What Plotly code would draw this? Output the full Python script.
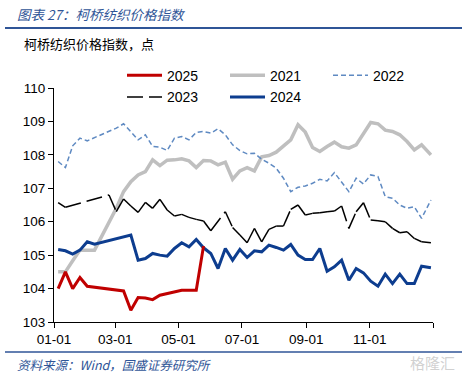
import plotly.graph_objects as go

BASE_YEAR = "2001-"

# ---- data (month-day, value) ----
dates_2021 = ["01-05", "01-12", "01-19", "01-26", "02-02", "02-09", "03-02", "03-09", "03-16", "03-23",
              "03-30", "04-06", "04-13", "04-20", "04-27", "05-04", "05-11", "05-18", "05-25", "06-01",
              "06-08", "06-15", "06-22", "06-29", "07-06", "07-13", "07-20", "07-27", "08-03", "08-10",
              "08-17", "08-24", "08-31", "09-07", "09-14", "09-21", "09-28", "10-05", "10-12", "10-19",
              "10-26", "11-02", "11-09", "11-16", "11-23", "11-30", "12-07", "12-14", "12-21", "12-30"]
vals_2021 = [104.5, 104.5, 104.83, 105.15, 105.15, 105.15, 106.4, 106.9, 107.2, 107.4,
             107.5, 107.85, 107.68, 107.84, 107.85, 107.88, 107.82, 107.62, 107.83, 107.82,
             107.7, 107.78, 107.27, 107.52, 107.62, 107.52, 107.94, 107.98, 108.08, 108.25,
             108.45, 108.9, 108.68, 108.22, 108.1, 108.25, 108.38, 108.24, 108.2, 108.3,
             108.62, 108.97, 108.93, 108.74, 108.7, 108.6, 108.4, 108.15, 108.3, 108.0]

dates_2022 = ["01-05", "01-12", "01-19", "01-26", "02-02", "02-16", "02-23", "03-02", "03-09", "03-16",
              "03-23", "03-30", "04-06", "04-13", "04-20", "04-27", "05-04", "05-11", "05-18", "05-25",
              "06-01", "06-08", "06-15", "06-22", "06-29", "07-06", "07-13", "07-20", "07-27", "08-03",
              "08-10", "08-17", "08-24", "08-31", "09-07", "09-14", "09-21", "09-28", "10-05", "10-12",
              "10-19", "10-26", "11-02", "11-09", "11-16", "11-23", "11-30", "12-07", "12-14", "12-21",
              "12-30"]
vals_2022 = [107.8, 107.62, 108.27, 108.5, 108.42, 108.6, 108.7, 108.8, 108.93, 108.68,
             108.45, 108.6, 108.25, 108.23, 108.13, 108.5, 108.55, 108.45, 108.67, 108.7,
             108.65, 108.78, 108.6, 108.3, 108.13, 108.03, 108.05, 107.87, 107.75, 107.6,
             107.3, 106.9, 107.03, 107.07, 107.15, 107.27, 107.22, 107.47, 107.2, 106.9,
             107.3, 107.13, 107.4, 107.35, 106.75, 106.7, 106.5, 106.4, 106.45, 106.1,
             106.65]

dates_2023 = ["01-05", "01-12", "02-23", "03-02", "03-09", "03-16", "03-23", "03-30", "04-06", "04-13",
              "04-20", "04-27", "05-04", "05-11", "05-18", "05-25", "06-01", "06-15", "06-22", "06-29",
              "07-06", "07-13", "07-20", "07-27", "08-03", "08-10", "08-17", "08-24", "08-31", "09-07",
              "09-14", "09-21", "09-28", "10-05", "10-12", "10-19", "10-26", "11-02", "11-09", "11-16",
              "11-23", "11-30", "12-07", "12-14", "12-21", "12-30"]
vals_2023 = [106.57, 106.43, 106.8, 106.3, 106.68, 106.47, 106.28, 106.58, 106.4, 106.67,
             106.35, 106.17, 106.22, 106.13, 106.07, 106.02, 105.73, 106.3, 105.83, 105.6,
             105.37, 105.8, 105.4, 105.77, 105.87, 105.87, 106.37, 106.5, 106.2, 106.25,
             106.27, 106.3, 106.32, 106.47, 105.8, 106.3, 106.57, 106.05, 106.03, 106.0,
             105.8, 105.67, 105.7, 105.5, 105.4, 105.37]

dates_2024 = ["01-05", "01-12", "01-19", "01-26", "02-02", "02-09", "03-16", "03-23", "03-30", "04-06",
              "04-13", "04-20", "04-27", "05-04", "05-11", "05-18", "05-25", "06-01", "06-08", "06-15",
              "06-22", "06-29", "07-06", "07-13", "07-20", "07-27", "08-03", "08-10", "08-17", "08-24",
              "08-31", "09-07", "09-14", "09-21", "09-28", "10-05", "10-12", "10-19", "10-26", "11-02",
              "11-09", "11-16", "11-23", "11-30", "12-07", "12-14", "12-21", "12-30"]
vals_2024 = [105.17, 105.13, 105.03, 105.15, 105.4, 105.33, 105.6, 104.85, 104.9, 105.05,
             105.0, 104.97, 105.2, 105.37, 105.25, 105.47, 105.22, 105.05, 104.6, 105.2,
             104.85, 105.17, 104.93, 105.13, 105.1, 105.3, 105.23, 105.15, 105.32, 105.0,
             104.87, 104.87, 105.2, 104.52, 104.65, 104.85, 104.25, 104.6, 104.47, 104.22,
             104.07, 104.43, 104.15, 104.43, 104.15, 104.15, 104.67, 104.62]

dates_2025 = ["01-05", "01-12", "01-19", "01-26", "02-02", "03-09", "03-16", "03-23", "03-30", "04-06",
              "04-13", "04-20", "04-27", "05-04", "05-11", "05-18", "05-25"]
vals_2025 = [104.0, 104.5, 104.0, 104.33, 104.07, 103.93, 103.35, 103.73, 103.72, 103.67,
             103.8, 103.85, 103.92, 103.95, 103.95, 103.95, 105.27]

tick_dates = ["01-01", "03-01", "05-01", "07-01", "09-01", "11-01"]
tick_labels = ["01-01", "03-01", "05-01", "07-01", "09-01", "11-01", ""]

title_text = "图表 27：柯桥纺织价格指数"
subtitle_text = "柯桥纺织价格指数，点"
source_text = "资料来源：Wind，国盛证券研究所"


def xs(dates):
    return [BASE_YEAR + d for d in dates]


FONT = "Liberation Sans, Arial, sans-serif"
CJK = "Noto Sans CJK SC, sans-serif"
BLUE_TXT = "#2F5597"

fig = go.Figure()

fig.add_trace(go.Scatter(x=xs(dates_2021), y=vals_2021, mode="lines", name="2021",
                         line=dict(color="#BFBFBF", width=3.5), legend="legend", legendrank=2))
fig.add_trace(go.Scatter(x=xs(dates_2022), y=vals_2022, mode="lines", name="2022",
                         line=dict(color="#5F8AC2", width=1.5, dash="5px,3px"),
                         legend="legend", legendrank=3))
x23 = xs(dates_2023)
for i in range(len(x23) - 1):
    fig.add_trace(go.Scatter(x=x23[i:i + 2], y=vals_2023[i:i + 2], mode="lines", name="2023",
                             showlegend=(i == 0),
                             line=dict(color="#000000", width=1.5, dash="16px,6px"),
                             legend="legend2", legendrank=1))
fig.add_trace(go.Scatter(x=xs(dates_2024), y=vals_2024, mode="lines", name="2024",
                         line=dict(color="#0D3D8F", width=3), legend="legend2", legendrank=2))
fig.add_trace(go.Scatter(x=xs(dates_2025), y=vals_2025, mode="lines", name="2025",
                         line=dict(color="#C00000", width=3), legend="legend", legendrank=1))

W, H = 468, 374
L, R, T, B = 54, 35, 88, 52
pw, ph = W - L - R, H - T - B


def px_x(p):
    return (p - L) / pw


def px_y(p):
    return (H - B - p) / ph


legend_common = dict(orientation="h", xref="paper", yref="paper",
                     xanchor="left", yanchor="middle", x=px_x(122),
                     font=dict(size=14, family=FONT, color="black"),
                     itemwidth=35, entrywidth=53, bgcolor="rgba(0,0,0,0)",
                     traceorder="normal")

fig.update_layout(
    width=W, height=H, autosize=False,
    margin=dict(l=L, r=R, t=T, b=B, pad=0),
    paper_bgcolor="white", plot_bgcolor="white",
    font=dict(family=FONT, color="black", size=13.5),
    legend=dict(**legend_common, y=px_y(75.7)),
    legend2=dict(**legend_common, y=px_y(97.3)),
    xaxis=dict(type="date", range=[BASE_YEAR + "01-01", "2002-01-01"],
               tickmode="array",
               tickvals=xs(tick_dates) + ["2002-01-01"],
               ticktext=tick_labels,
               showgrid=False, zeroline=False,
               showline=True, linecolor="black", linewidth=1,
               ticks="outside", ticklen=5, tickcolor="black",
               tickfont=dict(size=13.5, family=FONT, color="black")),
    yaxis=dict(range=[103, 110], dtick=1, tick0=103,
               showgrid=False, zeroline=False,
               showline=True, linecolor="black", linewidth=1,
               ticks="outside", ticklen=5, tickcolor="black",
               tickfont=dict(size=13.5, family=FONT, color="black")),
    annotations=[
        dict(text="<i>" + title_text + "</i>", xref="paper", yref="paper",
             x=px_x(15), y=px_y(14), xanchor="left", yanchor="middle", showarrow=False,
             font=dict(size=13.5, family=CJK, color=BLUE_TXT)),
        dict(text=subtitle_text, xref="paper", yref="paper",
             x=px_x(22), y=px_y(43), xanchor="left", yanchor="middle", showarrow=False,
             font=dict(size=13, family=CJK, color="black")),
        dict(text="<i>" + source_text + "</i>", xref="paper", yref="paper",
             x=px_x(15), y=px_y(364), xanchor="left", yanchor="middle", showarrow=False,
             font=dict(size=12.5, family=CJK, color=BLUE_TXT)),
        dict(text="格隆汇", xref="paper", yref="paper",
             x=px_x(432), y=px_y(362), xanchor="center", yanchor="middle", showarrow=False,
             font=dict(size=15, family=CJK, color="rgba(170,170,170,0.55)")),
    ],
    shapes=[
        dict(type="line", xref="paper", yref="paper", x0=px_x(5), x1=px_x(462),
             y0=px_y(28), y1=px_y(28), line=dict(color=BLUE_TXT, width=2)),
        dict(type="line", xref="paper", yref="paper", x0=px_x(5), x1=px_x(462),
             y0=px_y(352), y1=px_y(352), line=dict(color=BLUE_TXT, width=1.5)),
    ],
)

fig.write_html("out.html",
               config={"displayModeBar": False},
               post_script="document.body.style.margin='0px';document.body.style.padding='0px';")
